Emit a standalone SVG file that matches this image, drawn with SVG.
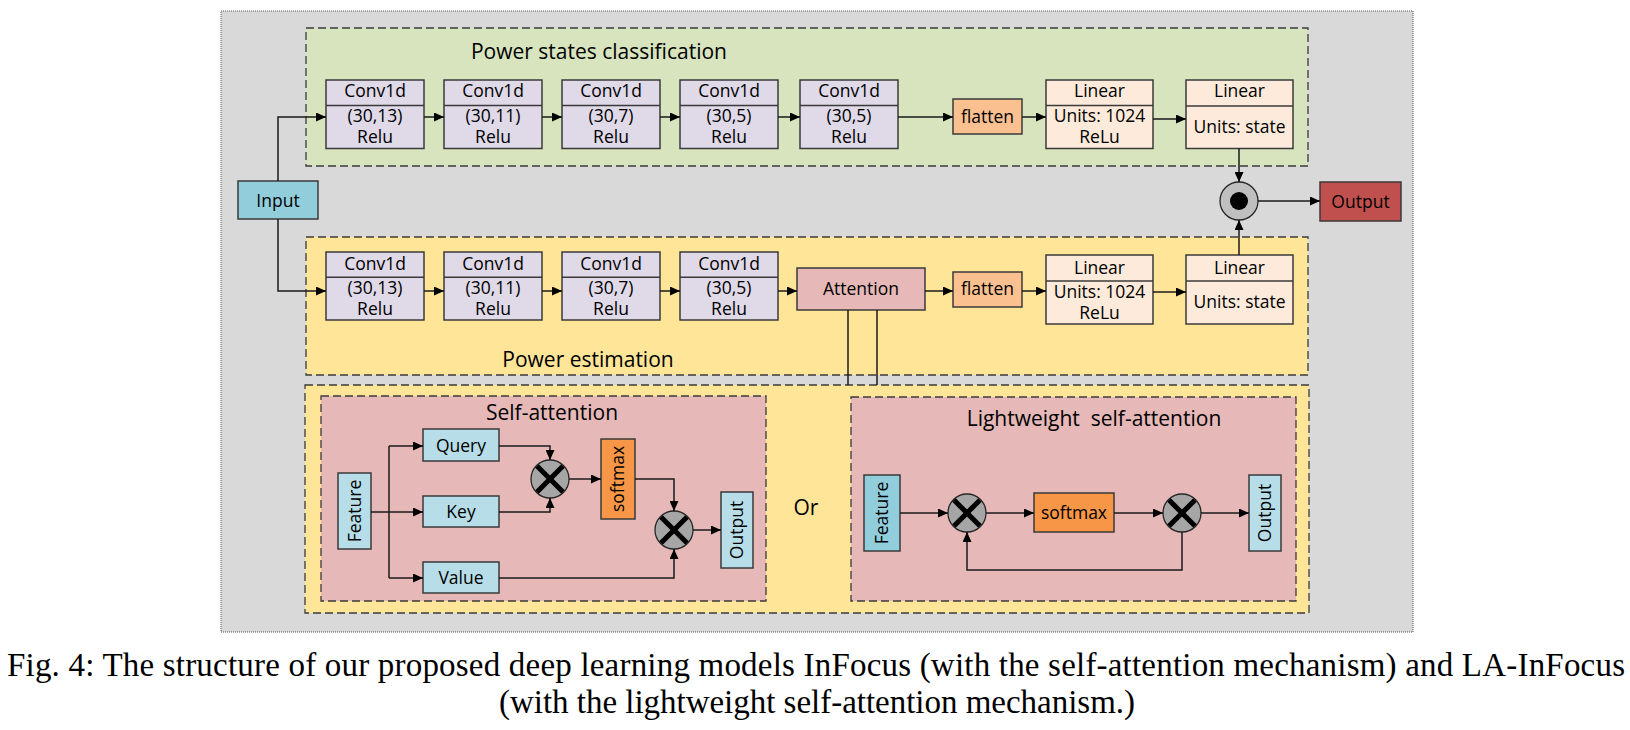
<svg xmlns="http://www.w3.org/2000/svg" width="1630" height="730" viewBox="0 0 1630 730">
<style>
.bx{stroke:#3a3a3a;stroke-width:1.5}
.conv{fill:#dfd9e8}
.lin{fill:#fdeada}
.flat{fill:#fac090}
.soft{fill:#f79646}
.lb{fill:#b7dee8}
.db{fill:#92cddc}
.dl{stroke:#3a3a3a;stroke-width:1.5}
.t{font-family:"Open Sans","Noto Sans",sans-serif;font-size:17.5px;fill:#000;text-anchor:middle}
.ti{font-size:21px}
.dash{stroke:#3a3a3a;stroke-width:1.3;stroke-dasharray:8 4}
.c{fill:none;stroke:#1a1a1a;stroke-width:1.5}
.mul{fill:#a6a6a6;stroke:#262626;stroke-width:1.3}
.x{stroke:#000;stroke-width:5}
.cap{font-family:"Liberation Serif","Times New Roman",serif;font-size:33px;fill:#000}
</style>
<defs>
<marker id="a" markerWidth="10" markerHeight="9" refX="10" refY="4.5" orient="auto" markerUnits="userSpaceOnUse"><path d="M0,0 L10,4.5 L0,9 z" fill="#000"/></marker>
</defs>

<g id="background">
<rect x="221" y="11" width="1192" height="621" fill="#d9d9d9" stroke="#555" stroke-width="1" stroke-dasharray="1 1"/>
</g>

<g id="power-states-classification">
<rect x="306" y="28" width="1002" height="138" fill="#d7e4bd" class="dash"/>
<text class="t ti" x="599" y="59">Power states classification</text>
</g>

<g id="power-estimation">
<rect x="306" y="237" width="1002" height="138" fill="#ffe598" class="dash"/>
<text class="t ti" x="588" y="367">Power estimation</text>
</g>

<g id="attention-options">
<rect x="305" y="385" width="1004" height="228" fill="#ffe598" class="dash"/>
<text class="t ti" x="806" y="515">Or</text>
</g>

<g id="input">
<rect class="bx db" x="238" y="181" width="80" height="38"/>
<text class="t" x="278" y="207">Input</text>
</g>

<!-- top row conv -->
<g id="conv-a1"><rect class="bx conv" x="326" y="80" width="98" height="68.5"/><line class="dl" x1="326" y1="105.5" x2="424" y2="105.5"/>
<text class="t" x="375" y="97">Conv1d</text><text class="t" x="375" y="122">(30,13)</text><text class="t" x="375" y="143">Relu</text></g>
<g id="conv-a2"><rect class="bx conv" x="444" y="80" width="98" height="68.5"/><line class="dl" x1="444" y1="105.5" x2="542" y2="105.5"/>
<text class="t" x="493" y="97">Conv1d</text><text class="t" x="493" y="122">(30,11)</text><text class="t" x="493" y="143">Relu</text></g>
<g id="conv-a3"><rect class="bx conv" x="562" y="80" width="98" height="68.5"/><line class="dl" x1="562" y1="105.5" x2="660" y2="105.5"/>
<text class="t" x="611" y="97">Conv1d</text><text class="t" x="611" y="122">(30,7)</text><text class="t" x="611" y="143">Relu</text></g>
<g id="conv-a4"><rect class="bx conv" x="680" y="80" width="98" height="68.5"/><line class="dl" x1="680" y1="105.5" x2="778" y2="105.5"/>
<text class="t" x="729" y="97">Conv1d</text><text class="t" x="729" y="122">(30,5)</text><text class="t" x="729" y="143">Relu</text></g>
<g id="conv-a5"><rect class="bx conv" x="800" y="80" width="98" height="68.5"/><line class="dl" x1="800" y1="105.5" x2="898" y2="105.5"/>
<text class="t" x="849" y="97">Conv1d</text><text class="t" x="849" y="122">(30,5)</text><text class="t" x="849" y="143">Relu</text></g>
<g id="flatten-a"><rect class="bx flat" x="953" y="99" width="69" height="35"/><text class="t" x="987.5" y="122.5">flatten</text></g>
<g id="linear-a1"><rect class="bx lin" x="1046" y="80" width="107" height="68.5"/><line class="dl" x1="1046" y1="105.5" x2="1153" y2="105.5"/>
<text class="t" x="1099.5" y="97">Linear</text><text class="t" x="1099.5" y="121.5">Units: 1024</text><text class="t" x="1099.5" y="142.5">ReLu</text></g>
<g id="linear-a2"><rect class="bx lin" x="1186" y="80" width="107" height="68.5"/><line class="dl" x1="1186" y1="106" x2="1293" y2="106"/>
<text class="t" x="1239.5" y="97">Linear</text><text class="t" x="1239.5" y="132.5">Units: state</text></g>

<!-- second row -->
<g id="conv-b1"><rect class="bx conv" x="326" y="252" width="98" height="68"/><line class="dl" x1="326" y1="277.3" x2="424" y2="277.3"/>
<text class="t" x="375" y="270">Conv1d</text><text class="t" x="375" y="294">(30,13)</text><text class="t" x="375" y="315">Relu</text></g>
<g id="conv-b2"><rect class="bx conv" x="444" y="252" width="98" height="68"/><line class="dl" x1="444" y1="277.3" x2="542" y2="277.3"/>
<text class="t" x="493" y="270">Conv1d</text><text class="t" x="493" y="294">(30,11)</text><text class="t" x="493" y="315">Relu</text></g>
<g id="conv-b3"><rect class="bx conv" x="562" y="252" width="98" height="68"/><line class="dl" x1="562" y1="277.3" x2="660" y2="277.3"/>
<text class="t" x="611" y="270">Conv1d</text><text class="t" x="611" y="294">(30,7)</text><text class="t" x="611" y="315">Relu</text></g>
<g id="conv-b4"><rect class="bx conv" x="680" y="252" width="98" height="68"/><line class="dl" x1="680" y1="277.3" x2="778" y2="277.3"/>
<text class="t" x="729" y="270">Conv1d</text><text class="t" x="729" y="294">(30,5)</text><text class="t" x="729" y="315">Relu</text></g>
<g id="attention"><rect class="bx" fill="#e6b9b8" x="797" y="268" width="128" height="42"/><text class="t" x="861" y="295">Attention</text></g>
<g id="flatten-b"><rect class="bx flat" x="953" y="272" width="69" height="35"/><text class="t" x="987.5" y="295">flatten</text></g>
<g id="linear-b1"><rect class="bx lin" x="1046" y="255" width="107" height="69"/><line class="dl" x1="1046" y1="281" x2="1153" y2="281"/>
<text class="t" x="1099.5" y="274">Linear</text><text class="t" x="1099.5" y="297.5">Units: 1024</text><text class="t" x="1099.5" y="318.5">ReLu</text></g>
<g id="linear-b2"><rect class="bx lin" x="1186" y="255" width="107" height="69"/><line class="dl" x1="1186" y1="281" x2="1293" y2="281"/>
<text class="t" x="1239.5" y="274">Linear</text><text class="t" x="1239.5" y="307.5">Units: state</text></g>

<g id="product">
<circle cx="1239" cy="201" r="19" fill="#bfbfbf" stroke="#262626" stroke-width="1.3"/>
<circle cx="1239" cy="201" r="9" fill="#000"/>
</g>
<g id="output">
<rect class="bx" fill="#c0504d" x="1320" y="182" width="81" height="39"/>
<text class="t" x="1360.5" y="207.5">Output</text>
</g>

<!-- Self-attention -->
<g id="self-attention">
<rect x="321" y="396" width="445" height="205" fill="#e6b9b8" class="dash"/>
<text class="t ti" x="552" y="420">Self-attention</text>
</g>
<g id="sa-feature"><rect class="bx lb" x="338" y="473" width="33" height="76"/><text class="t" transform="translate(360.5,511) rotate(-90)">Feature</text></g>
<g id="sa-query"><rect class="bx lb" x="423" y="429" width="76" height="32"/><text class="t" x="461" y="451.5">Query</text></g>
<g id="sa-key"><rect class="bx lb" x="423" y="496" width="76" height="31"/><text class="t" x="461" y="517.5">Key</text></g>
<g id="sa-value"><rect class="bx lb" x="423" y="562" width="76" height="31"/><text class="t" x="461" y="584">Value</text></g>
<g id="sa-mul1"><circle class="mul" cx="550" cy="479" r="19"/><line class="x" x1="537" y1="466" x2="563" y2="492"/><line class="x" x1="563" y1="466" x2="537" y2="492"/></g>
<g id="sa-softmax"><rect class="bx soft" x="601" y="439" width="34" height="80"/><text class="t" transform="translate(624,479) rotate(-90)">softmax</text></g>
<g id="sa-mul2"><circle class="mul" cx="674" cy="530" r="19"/><line class="x" x1="661" y1="517" x2="687" y2="543"/><line class="x" x1="687" y1="517" x2="661" y2="543"/></g>
<g id="sa-output"><rect class="bx lb" x="721" y="492" width="32" height="76"/><text class="t" transform="translate(743,530) rotate(-90)">Output</text></g>

<!-- Lightweight self-attention -->
<g id="lightweight-self-attention">
<rect x="851" y="397" width="445" height="204" fill="#e6b9b8" class="dash"/>
<text class="t ti" x="1094" y="426" style="white-space:pre">Lightweight  self-attention</text>
</g>
<g id="la-feature"><rect class="bx db" x="864" y="475" width="36" height="76"/><text class="t" transform="translate(888,513) rotate(-90)">Feature</text></g>
<g id="la-mul1"><circle class="mul" cx="967" cy="513" r="19"/><line class="x" x1="954" y1="500" x2="980" y2="526"/><line class="x" x1="980" y1="500" x2="954" y2="526"/></g>
<g id="la-softmax"><rect class="bx soft" x="1034" y="493" width="80" height="39"/><text class="t" x="1074" y="519">softmax</text></g>
<g id="la-mul2"><circle class="mul" cx="1182" cy="513" r="19"/><line class="x" x1="1169" y1="500" x2="1195" y2="526"/><line class="x" x1="1195" y1="500" x2="1169" y2="526"/></g>
<g id="la-output"><rect class="bx lb" x="1249" y="475" width="32" height="76"/><text class="t" transform="translate(1271,513) rotate(-90)">Output</text></g>

<g id="connectors">
<path class="c" d="M278,181 V117 H326" marker-end="url(#a)"/>
<path class="c" d="M278,219 V291 H326" marker-end="url(#a)"/>
<path class="c" d="M424,117 H444" marker-end="url(#a)"/>
<path class="c" d="M542,117 H562" marker-end="url(#a)"/>
<path class="c" d="M660,117 H680" marker-end="url(#a)"/>
<path class="c" d="M778,117 H800" marker-end="url(#a)"/>
<path class="c" d="M898,117 H953" marker-end="url(#a)"/>
<path class="c" d="M1022,117 H1046" marker-end="url(#a)"/>
<path class="c" d="M1153,119 H1186" marker-end="url(#a)"/>
<path class="c" d="M1239,148.5 V182" marker-end="url(#a)"/>
<path class="c" d="M1258,201 H1320" marker-end="url(#a)"/>
<path class="c" d="M1239,255 V220" marker-end="url(#a)"/>
<path class="c" d="M424,291 H444" marker-end="url(#a)"/>
<path class="c" d="M542,291 H562" marker-end="url(#a)"/>
<path class="c" d="M660,291 H680" marker-end="url(#a)"/>
<path class="c" d="M778,291 H797" marker-end="url(#a)"/>
<path class="c" d="M925,291 H953" marker-end="url(#a)"/>
<path class="c" d="M1022,291 H1046" marker-end="url(#a)"/>
<path class="c" d="M1153,292 H1186" marker-end="url(#a)"/>
<path class="c" d="M848,310 V385"/>
<path class="c" d="M877,310 V385"/>
<path class="c" d="M371,512 H389"/>
<path class="c" d="M389,446 V578"/>
<path class="c" d="M389,446 H423" marker-end="url(#a)"/>
<path class="c" d="M389,512 H423" marker-end="url(#a)"/>
<path class="c" d="M389,578 H423" marker-end="url(#a)"/>
<path class="c" d="M499,446 H550 V460" marker-end="url(#a)"/>
<path class="c" d="M499,512 H550 V498" marker-end="url(#a)"/>
<path class="c" d="M569,479 H601" marker-end="url(#a)"/>
<path class="c" d="M635,479 H674 V511" marker-end="url(#a)"/>
<path class="c" d="M499,578 H674 V549" marker-end="url(#a)"/>
<path class="c" d="M693,530 H721" marker-end="url(#a)"/>
<path class="c" d="M900,513 H948" marker-end="url(#a)"/>
<path class="c" d="M986,513 H1034" marker-end="url(#a)"/>
<path class="c" d="M1114,513 H1163" marker-end="url(#a)"/>
<path class="c" d="M1201,513 H1249" marker-end="url(#a)"/>
<path class="c" d="M1182,532 V570 H967 V532" marker-end="url(#a)"/>
</g>

<g id="caption">
<text class="cap" x="7" y="676" textLength="1618" lengthAdjust="spacing">Fig. 4: The structure of our proposed deep learning models InFocus (with the self-attention mechanism) and LA-InFocus</text>
<text class="cap" x="499" y="713" textLength="636" lengthAdjust="spacing">(with the lightweight self-attention mechanism.)</text>
</g>
</svg>
